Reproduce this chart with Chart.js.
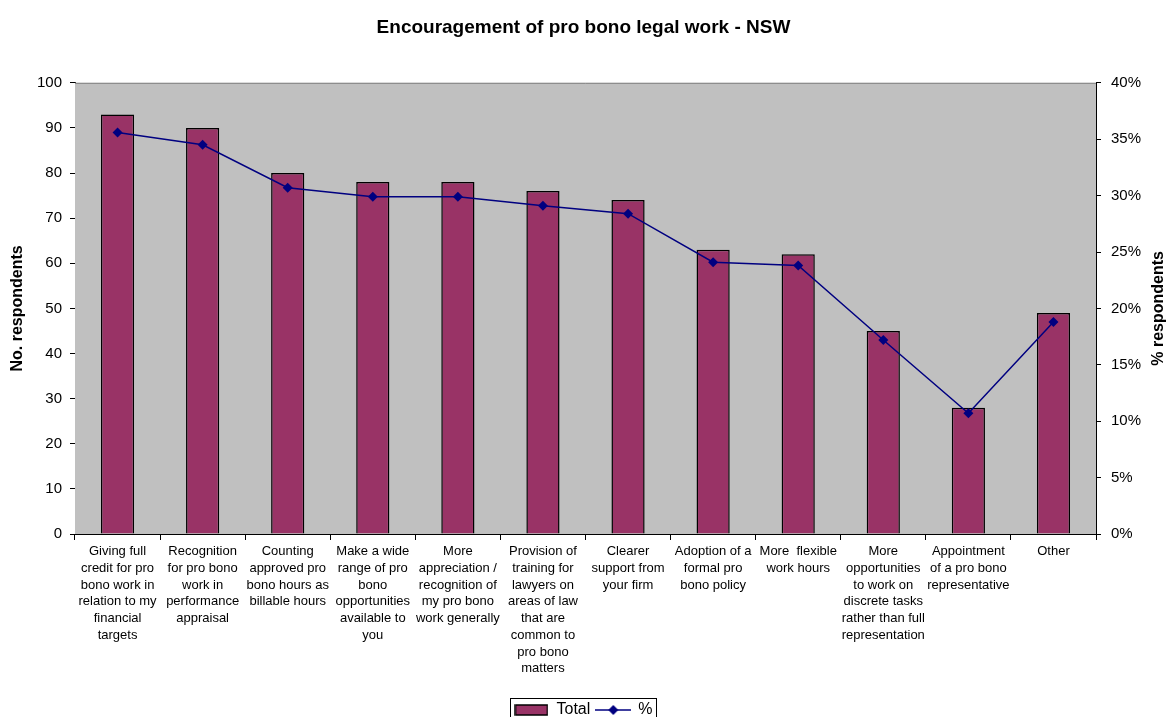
<!DOCTYPE html>
<html>
<head>
<meta charset="utf-8">
<script src="https://cdn.jsdelivr.net/npm/chart.js@4.4.1/dist/chart.umd.min.js"></script>
<style>
    body { margin: 0; background: #fff; }
    #wrap { width: 1167px; height: 717px; }
</style>
</head>
<body>
<div id="wrap"><canvas id="grafico" width="1167" height="717"></canvas></div>
<script>
// etiquetas de categorias, partidas como en el original
const categorias = [
    ["Giving full", "credit for pro", "bono work in", "relation to my", "financial", "targets"],
    ["Recognition", "for pro bono", "work in", "performance", "appraisal"],
    ["Counting", "approved pro", "bono hours as", "billable hours"],
    ["Make a wide", "range of pro", "bono", "opportunities", "available to", "you"],
    ["More", "appreciation /", "recognition of", "my pro bono", "work generally"],
    ["Provision of", "training for", "lawyers on", "areas of law", "that are", "common to", "pro bono", "matters"],
    ["Clearer", "support from", "your firm"],
    ["Adoption of a", "formal pro", "bono policy"],
    ["More  flexible", "work hours"],
    ["More", "opportunities", "to work on", "discrete tasks", "rather than full", "representation"],
    ["Appointment", "of a pro bono", "representative"],
    ["Other"]
];
const totales = [93, 90, 80, 78, 78, 76, 74, 63, 62, 45, 28, 49];
const porcentajes = [35.6, 34.5, 30.7, 29.9, 29.9, 29.1, 28.4, 24.1, 23.8, 17.2, 10.7, 18.8];

const ejeTotal = { min: 0, max: 100, paso: 10 };
const ejePorc = { min: 0, max: 40, paso: 5 };

const fuente = "'Liberation Sans', Arial, sans-serif";
const colorBarra = "#993366";
const colorLinea = "#000080";

// muestras para la leyenda
function muestraBarra() {
    const c = document.createElement("canvas");
    c.width = 34; c.height = 12;
    const g = c.getContext("2d");
    g.fillStyle = colorBarra;
    g.fillRect(1, 1, 32, 10);
    g.strokeStyle = "#000";
    g.lineWidth = 1.5;
    g.strokeRect(1, 1, 32, 10);
    return c;
}
function muestraLinea() {
    const c = document.createElement("canvas");
    c.width = 36; c.height = 12;
    const g = c.getContext("2d");
    g.strokeStyle = colorLinea;
    g.lineWidth = 1.5;
    g.beginPath(); g.moveTo(0, 6); g.lineTo(36, 6); g.stroke();
    g.fillStyle = colorLinea;
    g.beginPath(); g.moveTo(18, 1); g.lineTo(23, 6); g.lineTo(18, 11); g.lineTo(13, 6); g.closePath(); g.fill();
    return c;
}

const fondoPlot = {
    id: "fondoPlot",
    beforeDatasetsDraw(chart) {
        const a = chart.chartArea, ctx = chart.ctx;
        ctx.save();
        ctx.fillStyle = "#C0C0C0";
        ctx.fillRect(a.left, a.top, a.right - a.left, a.bottom - a.top);
        ctx.strokeStyle = "#808080";
        ctx.lineWidth = 1;
        ctx.beginPath();
        ctx.moveTo(a.left, a.top + 0.5);
        ctx.lineTo(a.right, a.top + 0.5);
        ctx.stroke();
        ctx.restore();
    },
    afterDraw(chart) {
        const ctx = chart.ctx, a = chart.chartArea;
        // titulo del eje derecho, leido de abajo hacia arriba
        ctx.save();
        ctx.translate(1159, (a.top + a.bottom) / 2);
        ctx.rotate(-Math.PI / 2);
        ctx.font = "bold 16px " + fuente;
        ctx.fillStyle = "#000";
        ctx.textAlign = "center";
        ctx.textBaseline = "middle";
        ctx.fillText("% respondents", 0, 0);
        ctx.restore();
        // recuadro de la leyenda
        const cajas = chart.legend.legendHitBoxes;
        if (cajas && cajas.length) {
            let x0 = Infinity, x1 = -Infinity, y0 = Infinity, y1 = -Infinity;
            cajas.forEach(b => {
                x0 = Math.min(x0, b.left); x1 = Math.max(x1, b.left + b.width);
                y0 = Math.min(y0, b.top); y1 = Math.max(y1, b.top + b.height);
            });
            ctx.save();
            ctx.strokeStyle = "#000";
            ctx.lineWidth = 1;
            ctx.strokeRect(Math.round(x0 - 4) + 0.5, Math.round(y0 - 4) + 0.5, Math.round(x1 - x0 + 8), Math.round(y1 - y0 + 12));
            ctx.restore();
        }
    }
};

const ctx = document.getElementById("grafico").getContext("2d");
new Chart(ctx, {
    type: "bar",
    data: {
        labels: categorias,
        datasets: [{
            type: "bar",
            label: "Total",
            data: totales,
            backgroundColor: colorBarra,
            borderColor: "#000",
            borderWidth: 1.5,
            barPercentage: 0.39,
            categoryPercentage: 1,
            yAxisID: "y",
            order: 1
        }, {
            type: "line",
            label: "%",
            data: porcentajes,
            borderColor: colorLinea,
            backgroundColor: colorLinea,
            borderWidth: 1.5,
            pointStyle: "rectRot",
            pointRadius: 5,
            pointBorderWidth: 0,
            tension: 0,
            yAxisID: "y1",
            order: 0
        }]
    },
    options: {
        responsive: false,
        animation: false,
        layout: { padding: { left: 0, right: 0, top: 0, bottom: -11 } },
        plugins: {
            title: {
                display: true,
                text: "Encouragement of pro bono legal work - NSW",
                color: "#000",
                font: { family: fuente, size: 19, weight: "bold" },
                padding: { top: 16, bottom: 44 }
            },
            legend: {
                position: "bottom",
                labels: {
                    color: "#000",
                    font: { family: fuente, size: 16 },
                    usePointStyle: true,
                    pointStyleWidth: 34,
                    padding: 6,
                    generateLabels: () => [
                        { text: "Total", pointStyle: muestraBarra(), fillStyle: colorBarra, strokeStyle: "#000", lineWidth: 0, datasetIndex: 0 },
                        { text: "%", pointStyle: muestraLinea(), fillStyle: colorLinea, strokeStyle: colorLinea, lineWidth: 0, datasetIndex: 1 }
                    ]
                }
            },
            tooltip: { enabled: false }
        },
        scales: {
            x: {
                grid: { drawOnChartArea: false, color: "#000", tickLength: 6, offset: true },
                border: { color: "#000", width: 1 },
                ticks: {
                    color: "#000",
                    maxRotation: 0,
                    autoSkip: false,
                    padding: 3,
                    font: { family: fuente, size: 13, lineHeight: 1.29 }
                },
                afterFit(s) { s.height = 162; }
            },
            y: {
                position: "left",
                min: ejeTotal.min,
                max: ejeTotal.max,
                grid: { drawOnChartArea: false, color: "#000", tickLength: 5 },
                border: { color: "#000", width: 1 },
                ticks: {
                    stepSize: ejeTotal.paso,
                    color: "#000",
                    padding: 8,
                    font: { family: fuente, size: 15 }
                },
                title: {
                    display: true,
                    text: "No. respondents",
                    color: "#000",
                    font: { family: fuente, size: 16, weight: "bold" },
                    padding: { top: 8, bottom: 0 }
                },
                afterFit(s) { s.width = 75; }
            },
            y1: {
                position: "right",
                min: ejePorc.min,
                max: ejePorc.max,
                grid: { drawOnChartArea: false, color: "#000", tickLength: 5 },
                border: { color: "#000", width: 1 },
                ticks: {
                    stepSize: ejePorc.paso,
                    color: "#000",
                    padding: 10,
                    font: { family: fuente, size: 15 },
                    callback: v => v + "%"
                },
                afterFit(s) { s.width = 71; }
            }
        }
    },
    plugins: [fondoPlot]
});
</script>
</body>
</html>
